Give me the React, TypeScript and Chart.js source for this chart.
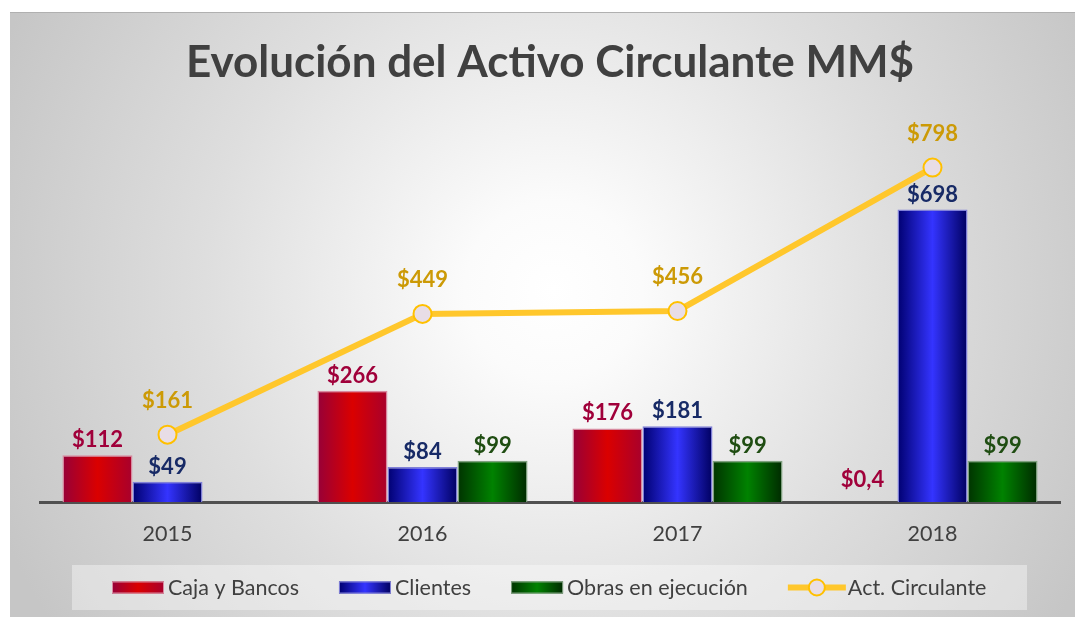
import { useEffect, useRef } from 'react';
import { Chart, registerables } from 'chart.js';

Chart.register(...registerables);

const categories = ['2015', '2016', '2017', '2018'];
const seriesNames = ['Caja y Bancos', 'Clientes', 'Obras en ejecución', 'Act. Circulante'];
const cajaBancos = [112, 266, 176, 0.4];
const clientes = [49, 84, 181, 698];
const obrasEjecucion: (number | null)[] = [null, 99, 99, 99];
const activoCirculante = [161, 449, 456, 798];

const barGradients = [
  { edgeL: '#970038', mid: '#DA0000', edgeR: '#A8002C', border: '#D88AA0', label: '#A0003A' },
  { edgeL: '#000070', mid: '#3434FF', edgeR: '#000060', border: '#8080D8', label: '#172A66' },
  { edgeL: '#003300', mid: '#008200', edgeR: '#002A00', border: '#7FA07F', label: '#1F4D12' },
];
const lineColor = '#FFC72C';
const lineLabelColor = '#CC9A06';
const textColor = '#404040';

const fmt = (v: number) => '$' + String(v).replace('.', ',');

function makeGrad(ctx: CanvasRenderingContext2D, left: number, width: number, g: any) {
  const grad = ctx.createLinearGradient(left, 0, left + width, 0);
  grad.addColorStop(0, g.edgeL);
  grad.addColorStop(0.5, g.mid);
  grad.addColorStop(1, g.edgeR);
  return grad;
}

const gradientPlugin = {
  id: 'barGradient',
  beforeDatasetsDraw(chart: any) {
    const ctx = chart.ctx;
    for (let d = 0; d < 3; d++) {
      const meta = chart.getDatasetMeta(d);
      meta.data.forEach((el: any) => {
        const w = el.width;
        const left = el.x - w / 2;
        el.options = Object.assign({}, el.options, { backgroundColor: makeGrad(ctx, left, w, barGradients[d]) });
      });
    }
  },
};

const labelPlugin = {
  id: 'valueLabels',
  afterDatasetsDraw(chart: any) {
    const ctx = chart.ctx;
    ctx.save();
    ctx.font = 'bold 22px Lato';
    ctx.textAlign = 'center';
    ctx.textBaseline = 'middle';
    chart.data.datasets.forEach((ds: any, d: number) => {
      const meta = chart.getDatasetMeta(d);
      meta.data.forEach((el: any, i: number) => {
        const v = ds.data[i];
        if (v === null || v === undefined) return;
        if (d < 3) {
          ctx.fillStyle = barGradients[d].label;
          const y = Math.min(el.y - 15, (el.base ?? el.y) - 22);
          ctx.fillText(fmt(v), el.x, y);
        } else {
          ctx.fillStyle = lineLabelColor;
          ctx.fillText(fmt(v), el.x, el.y - 34);
        }
      });
    });
    ctx.restore();
  },
};

const legendPlugin = {
  id: 'customLegend',
  afterDraw(chart: any) {
    const ctx = chart.ctx;
    const bgL = 62;
    const bgW = 955;
    const bgH = 45;
    const bgT = chart.height - 52;
    ctx.save();
    ctx.fillStyle = 'rgba(255,255,255,0.38)';
    ctx.fillRect(bgL, bgT, bgW, bgH);
    ctx.font = '21.5px Lato';
    ctx.textBaseline = 'middle';
    ctx.textAlign = 'left';
    const cy = bgT + bgH / 2;
    let x = bgL + 40;
    seriesNames.forEach((name, i) => {
      if (i < 3) {
        const g = barGradients[i];
        const w = 52, h = 12;
        ctx.fillStyle = makeGrad(ctx, x, w, g);
        ctx.fillRect(x, cy - h / 2, w, h);
        ctx.strokeStyle = g.border;
        ctx.lineWidth = 1;
        ctx.strokeRect(x + 0.5, cy - h / 2 + 0.5, w - 1, h - 1);
        x += w + 4;
      } else {
        const w = 58;
        ctx.strokeStyle = lineColor;
        ctx.lineWidth = 6;
        ctx.beginPath();
        ctx.moveTo(x, cy);
        ctx.lineTo(x + w, cy);
        ctx.stroke();
        ctx.beginPath();
        ctx.arc(x + w / 2, cy, 8, 0, Math.PI * 2);
        ctx.fillStyle = '#E8DDE6';
        ctx.fill();
        ctx.lineWidth = 2;
        ctx.strokeStyle = '#FFC000';
        ctx.stroke();
        x += w + 2;
      }
      ctx.fillStyle = textColor;
      ctx.fillText(name, x, cy + 1);
      x += ctx.measureText(name).width + 40;
    });
    ctx.restore();
  },
};

export default function App() {
  const ref = useRef<HTMLCanvasElement>(null);
  useEffect(() => {
    const canvas = ref.current!;
    const chart = new Chart(canvas, {
      type: 'bar',
      data: {
        labels: categories,
        datasets: [
          {
            type: 'bar',
            label: seriesNames[0],
            data: cajaBancos,
            backgroundColor: barGradients[0].mid,
            borderColor: barGradients[0].border,
            borderWidth: 1.5,
            order: 1,
          },
          {
            type: 'bar',
            label: seriesNames[1],
            data: clientes,
            backgroundColor: barGradients[1].mid,
            borderColor: barGradients[1].border,
            borderWidth: 1.5,
            order: 1,
          },
          {
            type: 'bar',
            label: seriesNames[2],
            data: obrasEjecucion,
            backgroundColor: barGradients[2].mid,
            borderColor: barGradients[2].border,
            borderWidth: 1.5,
            order: 1,
          },
          {
            type: 'line',
            label: seriesNames[3],
            data: activoCirculante,
            borderColor: lineColor,
            borderWidth: 6,
            pointRadius: 9,
            pointBorderWidth: 2,
            pointBorderColor: '#FFC000',
            pointBackgroundColor: '#E8DDE6',
            tension: 0,
            order: 0,
          } as any,
        ],
      },
      options: {
        responsive: false,
        animation: false,
        events: [],
        datasets: {
          bar: { barPercentage: 1, categoryPercentage: 0.824 },
        },
        layout: { padding: { left: 30, right: 15, top: 0, bottom: 51 } },
        plugins: {
          legend: { display: false },
          tooltip: { enabled: false },
          title: {
            display: true,
            text: 'Evolución del Activo Circulante MM$',
            color: textColor,
            font: { family: 'Lato', size: 44, weight: 'bold' },
            padding: { top: 24, bottom: 36 },
          },
        },
        scales: {
          x: {
            grid: { display: false, drawTicks: false },
            border: { display: true, color: '#505050', width: 3 },
            ticks: { color: textColor, font: { family: 'Lato', size: 21.5 }, padding: 19 },
          },
          y: {
            display: false,
            min: 0,
            max: 900,
          },
        },
      },
      plugins: [gradientPlugin, labelPlugin, legendPlugin],
    });
    return () => chart.destroy();
  }, []);
  return (
    <div style={{ position: 'absolute', left: 0, top: 0, width: 1075, height: 617, background: '#ffffff', overflow: 'hidden' }}>
      <div
        style={{
          position: 'absolute',
          left: 10,
          top: 12,
          width: 1065,
          height: 605,
          background: 'radial-gradient(circle farthest-corner at 51% 46%, #ffffff 0%, #fbfbfb 14%, #dedede 55%, #c6c6c6 95%)',
        }}
      >
        <canvas ref={ref} width={1065} height={605} style={{ display: 'block', fontFamily: 'Lato' }} />
        <div style={{ position: 'absolute', left: 0, top: 0, width: 1065, height: 1, background: '#b0b0b0' }} />
      </div>
    </div>
  );
}
